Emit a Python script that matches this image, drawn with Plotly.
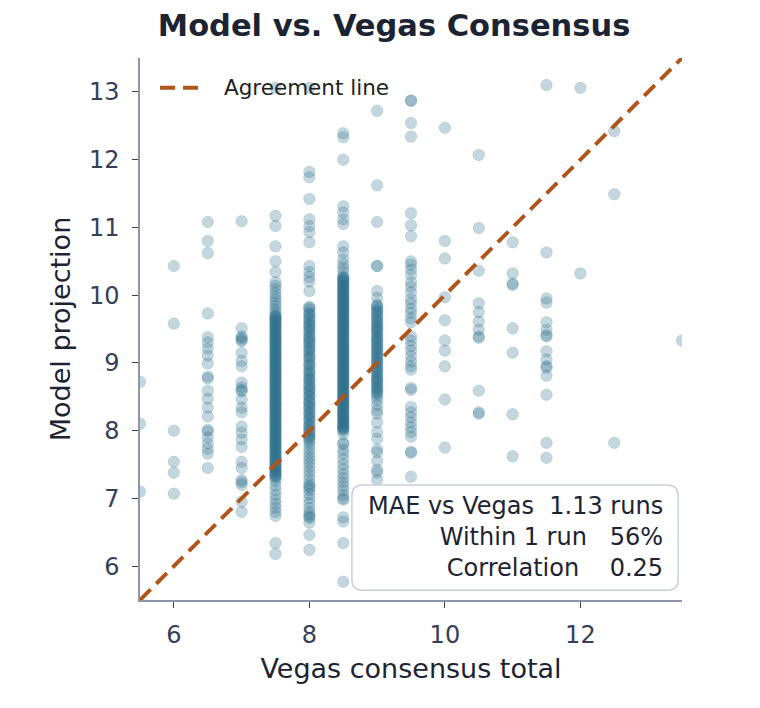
import plotly.graph_objects as go

# ---- data ----
vegas_totals = [5.5, 6, 6.5, 7, 7.5, 8, 8.5, 9, 9.5, 10, 10.5, 11, 11.5, 12, 12.5, 13.5]

model_5_5 = [8.72, 8.10, 7.10]
model_6 = [10.43, 9.58, 8.00, 7.54, 7.38, 7.07]
model_6_5 = [11.08, 10.80, 10.62, 9.73, 9.38, 9.30, 9.21, 9.11, 8.99, 8.80, 8.77, 8.59,
             8.47, 8.34, 8.21, 8.01, 7.99, 7.90, 7.81, 7.73, 7.66, 7.45]
model_7 = [11.09, 9.51, 9.39, 9.37, 9.34, 9.32, 9.15, 9.03, 8.95, 8.71, 8.64, 8.60, 8.58,
           8.46, 8.34, 8.27, 8.06, 7.97, 7.87, 7.76, 7.54, 7.45, 7.27, 7.24, 7.20, 6.95, 6.80]
model_7_5 = [13.06, 11.17, 11.02, 10.72, 10.50, 10.34, 10.19,
             10.14, 10.09, 10.03, 9.98, 9.93, 9.88, 9.84, 9.79, 9.75, 9.71,
             9.69, 9.66, 9.63, 9.61, 9.57, 9.54, 9.52, 9.48, 9.45, 9.43, 9.39, 9.36, 9.33, 9.31,
             9.27, 9.24, 9.21, 9.19, 9.15, 9.12, 9.10, 9.06, 9.03, 9.00, 8.98, 8.94, 8.91, 8.88,
             8.86, 8.82, 8.79, 8.77, 8.73, 8.70, 8.68, 8.64, 8.61, 8.58, 8.56, 8.52, 8.49, 8.47,
             8.43, 8.40, 8.37, 8.35, 8.31, 8.28, 8.26, 8.22, 8.19, 8.17, 8.13, 8.10, 8.07, 8.05,
             8.01, 7.98, 7.96, 7.92, 7.89, 7.86, 7.84, 7.80, 7.77, 7.75, 7.71, 7.68, 7.66, 7.62,
             7.59, 7.56, 7.54, 7.50, 7.47, 7.45, 7.41, 7.38, 7.35, 7.32, 7.30,
             9.68, 9.64, 9.59, 9.55, 9.50, 9.46, 9.41, 9.37, 9.32, 9.28, 9.23, 9.18, 9.14, 9.09,
             9.05, 9.01, 8.96, 8.92, 8.87, 8.83, 8.78, 8.74, 8.69, 8.65, 8.60, 8.55, 8.51, 8.46,
             8.42, 8.38, 8.33, 8.29, 8.24, 8.20, 8.15, 8.11, 8.06, 8.02, 7.97, 7.93, 7.88, 7.83,
             7.79, 7.74, 7.70, 7.65, 7.61, 7.57, 7.52, 7.48, 7.43, 7.39, 7.34,
             7.26, 7.19, 7.12, 7.05, 6.98, 6.92, 6.86, 6.80, 6.74, 6.34, 6.18]
model_8 = [13.06, 11.82, 11.74, 11.42, 11.12, 11.02, 10.93, 10.78, 10.43, 10.34, 10.27,
           10.20, 10.06,
           9.83, 9.79, 9.74, 9.70, 9.66, 9.61, 9.57, 9.53, 9.50, 9.45, 9.41, 9.36, 9.33, 9.28,
           9.24, 9.21, 9.16, 9.12, 9.07, 9.04, 8.99, 8.95, 8.90, 8.87, 8.82, 8.78, 8.74, 8.70,
           8.65, 8.61, 8.57, 8.53, 8.49, 8.44, 8.40, 8.36, 8.32, 8.27, 8.23, 8.19, 8.15, 8.10,
           8.06, 8.02, 7.98, 7.94, 7.90, 7.87,
           9.81, 9.72, 9.63, 9.55, 9.47, 9.38, 9.30, 9.19, 9.09, 8.97, 8.85, 8.76, 8.67, 8.59,
           8.51, 8.42, 8.34, 8.25, 8.17, 8.08, 8.00, 7.92,
           7.84, 7.79, 7.73, 7.68, 7.62, 7.57, 7.52, 7.46, 7.40, 7.34, 7.28, 7.22, 7.18, 7.16,
           7.12, 7.06, 7.00, 6.93, 6.86, 6.80, 6.76, 6.73, 6.71, 6.64, 6.46, 6.24]
model_8_5 = [12.39, 12.33, 12.00, 11.31, 11.22, 11.12, 11.05, 10.72, 10.63, 10.53, 10.46,
             10.40, 10.35,
             10.28, 10.25, 10.23, 10.20, 10.17, 10.14, 10.12, 10.09, 10.06, 10.03, 10.01, 9.98,
             9.95, 9.92, 9.90, 9.87, 9.84, 9.81, 9.79, 9.76, 9.73, 9.70, 9.68, 9.65, 9.62, 9.59,
             9.57, 9.54, 9.51, 9.48, 9.46, 9.43, 9.40, 9.37, 9.35, 9.32, 9.29, 9.26, 9.24, 9.21,
             9.18, 9.15, 9.13, 9.10, 9.07, 9.04, 9.02, 8.99, 8.96, 8.93, 8.91, 8.88, 8.85, 8.82,
             8.80, 8.77, 8.74, 8.71, 8.69, 8.66, 8.63, 8.60, 8.58, 8.55, 8.52, 8.49, 8.47, 8.44,
             8.41, 8.38, 8.36, 8.33, 8.30, 8.27, 8.25, 8.22, 8.19, 8.16, 8.14, 8.11, 8.08, 8.05,
             8.03, 8.00,
             10.26, 10.22, 10.18, 10.13, 10.08, 10.04, 9.99, 9.94, 9.89, 9.85, 9.80, 9.75, 9.71,
             9.66, 9.61, 9.56, 9.52, 9.47, 9.42, 9.38, 9.33, 9.28, 9.23, 9.19, 9.14, 9.09, 9.05,
             9.00, 8.95, 8.90, 8.86, 8.81, 8.76, 8.72, 8.67, 8.62, 8.57, 8.53, 8.48, 8.43, 8.39,
             8.34, 8.29, 8.24, 8.20, 8.15, 8.10, 8.06, 8.02,
             7.95, 7.82, 7.80, 7.72, 7.66, 7.58, 7.50, 7.43, 7.36, 7.30, 7.24, 7.18, 7.12, 7.05,
             7.00, 6.98, 6.72, 6.66, 6.34, 5.77]
model_9 = [12.72, 11.62, 11.08, 10.43, 10.43, 10.06, 9.96,
           9.86, 9.82, 9.78, 9.75, 9.71, 9.66, 9.63, 9.59, 9.55, 9.51, 9.48, 9.44, 9.40, 9.36,
           9.33, 9.29, 9.25, 9.21, 9.18, 9.14, 9.10, 9.06, 9.03, 8.99, 8.95, 8.91, 8.88, 8.84,
           8.80, 8.76, 8.73, 8.69, 8.65, 8.61, 8.58, 8.54, 8.50,
           9.84, 9.77, 9.69, 9.61, 9.53, 9.46, 9.38, 9.31, 9.23, 9.16, 9.08, 9.01, 8.93, 8.86,
           8.78, 8.71, 8.63, 8.56,
           8.45, 8.38, 8.30, 8.25, 8.12, 7.98, 7.88, 7.72, 7.68, 7.55, 7.42, 7.38, 7.27]
model_9_5 = [12.87, 12.87, 12.54, 12.34, 11.21, 11.03, 10.87, 10.50, 10.45, 10.38, 10.30,
             10.19, 10.12, 10.04, 9.94, 9.88, 9.80, 9.74, 9.66, 9.60, 9.39, 9.33, 9.25, 9.18,
             9.10, 9.02, 8.95, 8.90, 8.63, 8.60, 8.35, 8.27, 8.20, 8.12, 8.05, 7.98, 7.91, 7.69,
             7.67, 7.32]
model_10 = [12.47, 10.80, 10.54, 9.97, 9.63, 9.33, 9.18, 8.95, 8.46, 7.75]
model_10_5 = [12.07, 10.99, 10.36, 9.88, 9.75, 9.61, 9.49, 9.39, 9.37, 8.59, 8.27, 8.25]
model_11 = [10.78, 10.32, 10.17, 10.15, 9.51, 9.15, 8.24, 7.62]
model_11_5 = [13.10, 10.63, 9.95, 9.89, 9.60, 9.49, 9.41, 9.39, 9.17, 9.05, 8.95, 8.93,
              8.81, 8.53, 7.82, 7.60]
model_12 = [13.06, 10.32]
model_12_5 = [12.42, 11.49, 7.82]
model_13_5 = [9.33]

model_columns = [model_5_5, model_6, model_6_5, model_7, model_7_5, model_8, model_8_5,
                 model_9, model_9_5, model_10, model_10_5, model_11, model_11_5, model_12,
                 model_12_5, model_13_5]

agreement_ends = [5.5, 13.5]
legend_label = "Agreement line"
stat_labels = ["MAE vs Vegas", "Within 1 run", "Correlation"]
stat_values = ["1.13 runs", "56%", "0.25"]
stat_gaps = [2, 3, 4]

x_ticks = [6, 8, 10, 12]
y_ticks = [6, 7, 8, 9, 10, 11, 12, 13]

# ---- build ----
xs, ys = [], []
for v, col in zip(vegas_totals, model_columns):
    xs += [v] * len(col)
    ys += col

FONT = "DejaVu Sans"
TEAL = "rgba(42,110,140,0.28)"
ink = "#1c2434"
tick_col = "#34405a"
spine = "#8c97ab"
LINE_COL = "#b0561c"

fig = go.Figure()
fig.add_trace(go.Scatter(
    x=xs, y=ys, mode="markers", showlegend=False, hoverinfo="skip",
    marker=dict(size=11.5, color=TEAL, line=dict(width=0.6, color=TEAL)),
))
fig.add_trace(go.Scatter(
    x=agreement_ends, y=agreement_ends, mode="lines", name=legend_label,
    showlegend=False,
    line=dict(color=LINE_COL, width=4, dash="15px,8px"),
    cliponaxis=False,
))

# legend key (drawn manually so the key length matches)
fig.add_shape(type="line", xref="paper", yref="paper", x0=0.037, x1=0.120, y0=0.945,
              y1=0.945, line=dict(color=LINE_COL, width=4, dash="15px,8px"))
fig.add_annotation(x=0.151, y=0.945, xref="paper", yref="paper", xanchor="left",
                   yanchor="middle", text=legend_label, showarrow=False,
                   font=dict(family=FONT, size=21.5, color="#222222"))

stat_text = "<br>".join(
    f"{l}{chr(160) * g}{v}" for l, v, g in zip(stat_labels, stat_values, stat_gaps)
)

# rounded box
x0, x1, y0, y1, r = 0.391, 0.993, 0.018, 0.212, 0.02
path = (f"M {x0+r},{y0} L {x1-r},{y0} Q {x1},{y0} {x1},{y0+r} L {x1},{y1-r} "
        f"Q {x1},{y1} {x1-r},{y1} L {x0+r},{y1} Q {x0},{y1} {x0},{y1-r} "
        f"L {x0},{y0+r} Q {x0},{y0} {x0+r},{y0} Z")
fig.add_shape(type="path", path=path, xref="paper", yref="paper",
              fillcolor="rgba(255,255,255,0.92)", line=dict(color="#c9d0dc", width=1.5),
              layer="above")
fig.add_annotation(
    x=0.969, y=0.117, xref="paper", yref="paper", xanchor="right", yanchor="middle",
    text=stat_text, align="right", showarrow=False,
    font=dict(family=FONT, size=24, color=ink),
)

fig.update_layout(
    width=760, height=708,
    margin=dict(l=132, r=86, t=50, b=116),
    paper_bgcolor="white", plot_bgcolor="white",
    font=dict(family=FONT, color=ink),
    title=dict(text="<b>Model vs. Vegas Consensus</b>", x=0.508, xanchor="center",
               y=0.975, yanchor="middle", font=dict(family=FONT, size=30.5, color=ink)),
    showlegend=False,
    xaxis=dict(range=[5.5, 13.5], tickvals=x_ticks, showgrid=False, zeroline=False,
               showline=True, linecolor=spine, linewidth=1.5, ticks="outside",
               ticklen=6, tickwidth=1.3, tickcolor=tick_col, ticklabelstandoff=6,
               tickfont=dict(family=FONT, size=24, color=tick_col),
               title=dict(text="Vegas consensus total", standoff=12,
                          font=dict(family=FONT, size=27, color=ink))),
    yaxis=dict(range=[5.5, 13.5], tickvals=y_ticks, showgrid=False, zeroline=False,
               showline=True, linecolor=spine, linewidth=1.5, ticks="outside",
               ticklen=6, tickwidth=1.3, tickcolor=tick_col, ticklabelstandoff=8,
               tickfont=dict(family=FONT, size=24, color=tick_col),
               title=dict(text="Model projection", standoff=10,
                          font=dict(family=FONT, size=27, color=ink))),
)

fig.write_html("out.html")
